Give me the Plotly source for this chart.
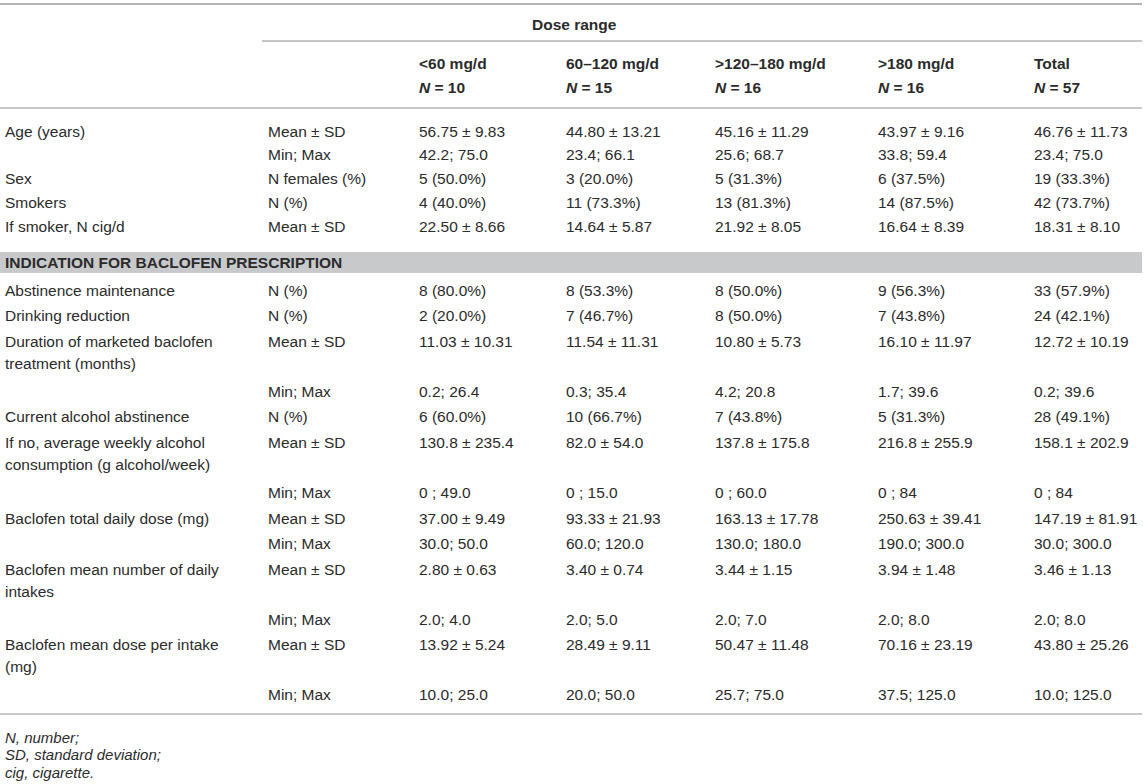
import plotly.graph_objects as go

# --- table content ---
GROUPS = ["<60 mg/d", "60–120 mg/d", ">120–180 mg/d", ">180 mg/d", "Total"]
GROUP_N = [10, 15, 16, 16, 57]

SECTION_TITLE = "INDICATION FOR BACLOFEN PRESCRIPTION"

# rows before the grey band
LABELS_1 = ["Age (years)", "", "Sex", "Smokers", "If smoker, N cig/d"]
STATS_1 = ["Mean ± SD", "Min; Max", "N females (%)", "N (%)", "Mean ± SD"]

# rows after the grey band (a "|" splits a label on two lines)
LABELS_2 = [
    "Abstinence maintenance",
    "Drinking reduction",
    "Duration of marketed baclofen|treatment (months)",
    "",
    "Current alcohol abstinence",
    "If no, average weekly alcohol|consumption (g alcohol/week)",
    "",
    "Baclofen total daily dose (mg)",
    "",
    "Baclofen mean number of daily|intakes",
    "",
    "Baclofen mean dose per intake|(mg)",
    "",
]
STATS_2 = ["N (%)", "N (%)", "Mean ± SD", "Min; Max", "N (%)", "Mean ± SD", "Min; Max",
           "Mean ± SD", "Min; Max", "Mean ± SD", "Min; Max", "Mean ± SD", "Min; Max"]

DOSE_LT60 = ["56.75 ± 9.83", "42.2; 75.0", "5 (50.0%)", "4 (40.0%)", "22.50 ± 8.66",
             "8 (80.0%)", "2 (20.0%)", "11.03 ± 10.31", "0.2; 26.4", "6 (60.0%)",
             "130.8 ± 235.4", "0 ; 49.0", "37.00 ± 9.49", "30.0; 50.0", "2.80 ± 0.63",
             "2.0; 4.0", "13.92 ± 5.24", "10.0; 25.0"]
DOSE_60_120 = ["44.80 ± 13.21", "23.4; 66.1", "3 (20.0%)", "11 (73.3%)", "14.64 ± 5.87",
               "8 (53.3%)", "7 (46.7%)", "11.54 ± 11.31", "0.3; 35.4", "10 (66.7%)",
               "82.0 ± 54.0", "0 ; 15.0", "93.33 ± 21.93", "60.0; 120.0", "3.40 ± 0.74",
               "2.0; 5.0", "28.49 ± 9.11", "20.0; 50.0"]
DOSE_120_180 = ["45.16 ± 11.29", "25.6; 68.7", "5 (31.3%)", "13 (81.3%)", "21.92 ± 8.05",
                "8 (50.0%)", "8 (50.0%)", "10.80 ± 5.73", "4.2; 20.8", "7 (43.8%)",
                "137.8 ± 175.8", "0 ; 60.0", "163.13 ± 17.78", "130.0; 180.0", "3.44 ± 1.15",
                "2.0; 7.0", "50.47 ± 11.48", "25.7; 75.0"]
DOSE_GT180 = ["43.97 ± 9.16", "33.8; 59.4", "6 (37.5%)", "14 (87.5%)", "16.64 ± 8.39",
              "9 (56.3%)", "7 (43.8%)", "16.10 ± 11.97", "1.7; 39.6", "5 (31.3%)",
              "216.8 ± 255.9", "0 ; 84", "250.63 ± 39.41", "190.0; 300.0", "3.94 ± 1.48",
              "2.0; 8.0", "70.16 ± 23.19", "37.5; 125.0"]
TOTAL = ["46.76 ± 11.73", "23.4; 75.0", "19 (33.3%)", "42 (73.7%)", "18.31 ± 8.10",
         "33 (57.9%)", "24 (42.1%)", "12.72 ± 10.19", "0.2; 39.6", "28 (49.1%)",
         "158.1 ± 202.9", "0 ; 84", "147.19 ± 81.91", "30.0; 300.0", "3.46 ± 1.13",
         "2.0; 8.0", "43.80 ± 25.26", "10.0; 125.0"]

FOOTNOTES = ["N, number;", "SD, standard deviation;", "cig, cigarette."]

# --- layout constants (pixel-like axis units) ---
W, H = 1146, 784
COL_X = [3, 266, 417, 564, 713, 876, 1032]
TEXT = "#2b2b2b"
RULE = "#b4b4b4"
FONT = "Liberation Sans, Arial, Helvetica, sans-serif"
FS = 15.5

value_cols = [DOSE_LT60, DOSE_60_120, DOSE_120_180, DOSE_GT180, TOTAL]

# row y positions
y1 = [131 + i * 23.75 for i in range(len(LABELS_1))]
y2 = []
y = 290
for lab in LABELS_2:
    y2.append(y)
    y += 49.5 if "|" in lab else 25.8

labels = LABELS_1 + LABELS_2
stats = STATS_1 + STATS_2
rows_y = y1 + y2

ann = []


def txt(x, y, s, bold=False, italic=False, size=FS):
    if bold:
        s = "<b>" + s + "</b>"
    if italic:
        s = "<i>" + s + "</i>"
    ann.append(dict(x=x, y=y, xref="x", yref="y", text=s, showarrow=False,
                    xanchor="left", yanchor="middle", align="left",
                    font=dict(family=FONT, size=size, color=TEXT)))


# header
txt(530, 24, "Dose range", bold=True)
for j, (g, n) in enumerate(zip(GROUPS, GROUP_N)):
    txt(COL_X[j + 2], 63, g.replace("<", "&lt;").replace(">", "&gt;"), bold=True)
    txt(COL_X[j + 2], 87, "<i>N</i> = %d" % n, bold=True)

# body
for i, (lab, st, ry) in enumerate(zip(labels, stats, rows_y)):
    for k, part in enumerate(lab.split("|")):
        if part:
            txt(COL_X[0], ry + 22 * k, part)
    txt(COL_X[1], ry, st)
    for j, col in enumerate(value_cols):
        txt(COL_X[j + 2], ry, col[i])

# grey band title
txt(COL_X[0], 262.5, SECTION_TITLE, bold=True)

# footnotes
for k, f in enumerate(FOOTNOTES):
    txt(COL_X[0], 737 + 17.5 * k, f, italic=True, size=15)

shapes = [
    dict(type="rect", x0=0, x1=1142, y0=252, y1=273, fillcolor="#c8c9cb",
         line_width=0, layer="below"),
    dict(type="line", x0=0, x1=1142, y0=4, y1=4, line=dict(color=RULE, width=2)),
    dict(type="line", x0=262, x1=1142, y0=41, y1=41, line=dict(color=RULE, width=1.5)),
    dict(type="line", x0=0, x1=1142, y0=108, y1=108, line=dict(color=RULE, width=1.5)),
    dict(type="line", x0=0, x1=1142, y0=714, y1=714, line=dict(color=RULE, width=1.5)),
]

fig = go.Figure()
fig.add_trace(go.Scatter(x=[0, W], y=[0, H], mode="markers",
                         marker=dict(opacity=0), hoverinfo="skip", showlegend=False))
fig.update_layout(
    width=W, height=H,
    margin=dict(l=0, r=0, t=0, b=0),
    paper_bgcolor="white", plot_bgcolor="white",
    xaxis=dict(range=[0, W], visible=False, fixedrange=True),
    yaxis=dict(range=[H, 0], visible=False, fixedrange=True),
    annotations=ann,
    shapes=shapes,
    showlegend=False,
)

# page body has a default 8px margin; drop it so the figure sits at the window origin
fig.write_html("out.html", config={"displayModeBar": False},
               post_script="document.body.style.margin='0px';")
